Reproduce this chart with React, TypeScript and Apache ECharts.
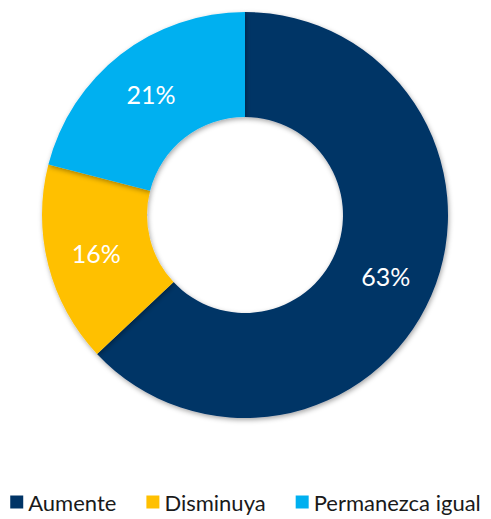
import React, { useEffect, useRef } from "react";
import * as echarts from "echarts";

const categories = ["Aumente", "Disminuya", "Permanezca igual"];
const values = [63, 16, 21];
const colors = ["#003466", "#FFC000", "#00B0F0"];

export default function App() {
  const ref = useRef<HTMLDivElement>(null);
  useEffect(() => {
    const chart = echarts.init(ref.current!, null, { renderer: "svg" });
    chart.setOption({
      animation: false,
      legend: {
        data: categories,
        bottom: 1,
        left: "center",
        icon: "rect",
        itemWidth: 13,
        itemHeight: 13,
        itemGap: 30,
        textStyle: { fontFamily: "Lato", fontSize: 22, color: "#1a1a1a" },
      },
      series: [
        {
          type: "pie",
          center: [245, 215],
          radius: [98, 203],
          startAngle: 90,
          clockwise: true,
          data: categories.map((c, i) => ({ name: c, value: values[i], itemStyle: { color: colors[i] } })),
          itemStyle: {
            shadowBlur: 5,
            shadowColor: "rgba(0,0,0,0.35)",
            shadowOffsetX: 1,
            shadowOffsetY: 2,
          },
          label: {
            show: true,
            position: "inside",
            formatter: (p: any) => p.value + "%",
            color: "#fff",
            fontFamily: "Lato",
            fontSize: 25,
          },
          labelLine: { show: false },
          emphasis: { disabled: true },
        },
      ],
    });
    return () => chart.dispose();
  }, []);
  return <div ref={ref} style={{ position: "absolute", left: 0, top: 0, width: 491, height: 519 }} />;
}
